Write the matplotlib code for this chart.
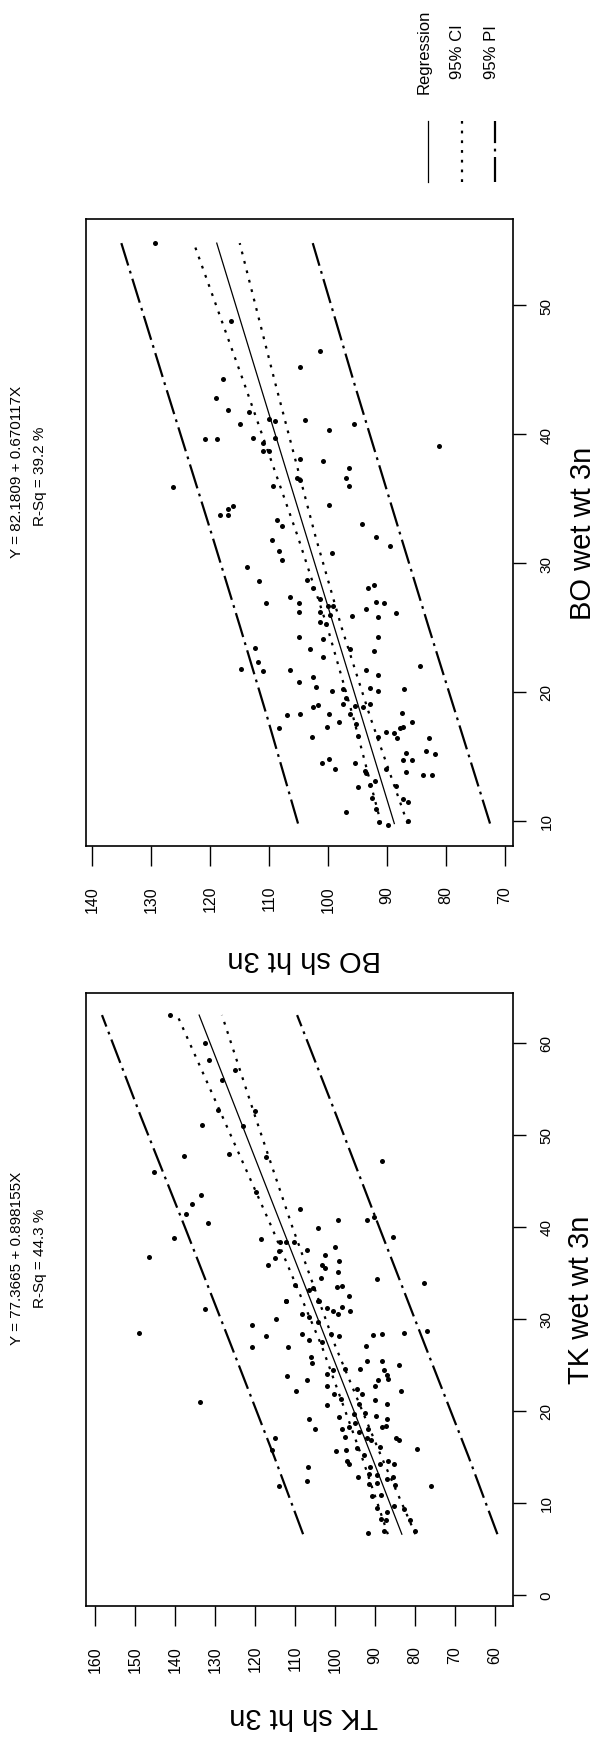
import matplotlib
matplotlib.use("Agg")
import matplotlib.pyplot as plt
from matplotlib.lines import Line2D

plt.rcParams['font.family'] = ['Liberation Sans', 'DejaVu Sans']
plt.rcParams['lines.scale_dashes'] = False

# ---------------- data: TK panel (x = wet wt, y = sh ht) ----------------
tk_wet = [63.0, 60.0, 58.1, 57.0, 55.9, 52.7, 52.6, 51.1, 51.0, 47.7, 47.9, 47.6, 47.1, 45.9,
          43.5, 42.5, 43.8, 41.9, 41.4, 40.4, 40.7, 40.7, 41.1, 39.9, 38.8, 38.7, 38.4, 38.4,
          38.9, 36.7, 38.3, 37.5, 37.8, 37.4, 36.6, 35.9, 36.9, 35.8, 35.5, 36.3, 35.1, 34.4,
          34.3, 33.9, 33.3, 33.1, 33.5, 33.6, 32.5, 31.9, 31.9, 33.7,
          28.5, 31.1, 21.0, 29.3, 28.1, 26.9, 30.0, 31.9, 30.5, 30.2, 31.9, 31.2, 30.8, 30.5,
          31.3, 30.8, 29.7, 28.4, 27.7, 26.9, 23.8, 23.4, 22.2, 25.8, 25.2, 28.3, 28.1, 27.5,
          27.1, 28.2, 28.4, 28.5, 28.7, 25.4, 25.4, 24.6, 24.4, 24.0, 24.5, 24.4, 23.9, 25.0,
          23.5, 23.4, 22.7, 22.2, 22.7, 21.8, 22.4, 21.8, 21.2, 20.8, 20.6, 21.3, 20.7, 19.1,
          18.0, 19.3, 19.7, 19.8, 19.4, 19.1, 18.0, 18.3, 18.7, 18.0, 18.2, 18.4, 17.2, 17.7,
          17.0, 16.8, 17.0, 16.8, 15.9, 17.1, 15.7, 11.8, 15.6, 15.8, 16.0, 16.1, 14.6, 14.2,
          15.2, 13.9, 14.2, 14.6, 14.2, 13.9, 12.4, 12.8, 13.1, 12.1, 13.0, 12.2, 12.6, 12.8,
          11.9, 11.8, 10.8, 10.9, 9.4, 9.0, 9.7, 9.3, 8.2, 8.1, 8.1, 6.7, 7.0, 6.9]
tk_sh = [141.4, 132.5, 131.6, 125.0, 128.3, 129.3, 120.1, 133.3, 123.0, 137.8, 126.5, 117.2, 88.3, 145.4,
         133.6, 135.7, 119.9, 108.9, 137.2, 131.8, 99.3, 91.9, 90.2, 104.3, 140.2, 118.6, 112.4, 110.3,
         85.5, 146.5, 113.9, 107.0, 100.0, 114.1, 115.1, 116.9, 102.6, 103.2, 102.5, 99.0, 99.3, 103.4,
         89.6, 77.7, 105.5, 106.5, 99.4, 98.2, 96.5, 112.4, 104.0, 110.1,
         149.0, 132.5, 133.9, 120.9, 117.4, 120.9, 114.7, 112.4, 108.2, 106.5, 104.2, 102.0, 100.4, 99.3,
         98.2, 96.3, 104.2, 108.2, 106.5, 111.7, 112.0, 106.9, 109.7, 106.1, 105.7, 101.1, 99.0, 103.2,
         92.3, 90.4, 88.2, 82.7, 77.1, 91.9, 88.3, 93.8, 100.4, 102.0, 97.5, 87.7, 86.9, 84.0,
         86.7, 89.2, 90.0, 83.6, 102.0, 100.3, 94.6, 93.3, 90.1, 87.1, 102.1, 98.6, 94.0, 106.5,
         105.0, 99.0, 95.3, 92.5, 89.8, 87.1, 98.2, 96.5, 94.9, 91.7, 88.2, 87.3, 97.5, 94.0,
         91.9, 91.1, 84.8, 84.0, 79.4, 115.1, 115.9, 114.1, 99.7, 97.2, 94.6, 88.7, 96.9, 96.5,
         92.8, 91.3, 88.8, 86.7, 85.2, 106.7, 107.0, 94.2, 91.5, 91.5, 89.4, 89.4, 86.9, 85.6,
         85.0, 75.9, 90.7, 88.6, 89.4, 87.1, 85.2, 82.7, 88.6, 87.3, 81.2, 91.8, 87.7, 80.1]

tk_band_x = [6.6, 15, 27, 40, 52, 63]
tk_fit = [83.3, 90.8, 101.6, 113.3, 124.1, 134.0]
tk_ci_hi = [86.8, 93.3, 103.3, 115.9, 128.2, 139.5]
tk_ci_lo = [79.9, 88.4, 99.9, 110.7, 120.0, 128.3]
tk_pi_hi = [108.0, 115.2, 125.9, 137.6, 148.6, 158.3]
tk_pi_lo = [59.4, 66.6, 77.4, 89.0, 99.6, 109.5]

# ---------------- data: BO panel ----------------
bo_wet = [54.8, 48.8, 46.4, 45.2, 44.3, 42.8, 41.9, 41.7, 40.8, 41.2, 41.0, 41.1, 40.3, 40.8,
          39.6, 39.6, 39.7, 39.7, 39.3, 38.7, 38.7, 39.1, 38.1, 37.9, 37.4, 36.6, 36.0, 35.9,
          36.0, 36.6, 36.4, 34.4, 34.2, 33.7, 33.7, 34.5, 33.3, 32.9, 33.0,
          31.8, 30.9, 30.2, 29.7, 28.6, 30.8, 32.0, 31.3, 28.7, 28.1, 28.1, 28.3, 27.4, 26.9,
          26.2, 26.9, 27.2, 26.2, 26.7, 26.7, 26.0, 25.9, 26.4, 27.0, 26.9, 25.8, 26.1, 25.4,
          25.3, 24.3, 24.1, 24.3, 23.3, 22.7, 23.4, 22.3, 21.8, 21.6, 21.7, 23.3, 23.2, 21.7,
          21.3, 22.0, 21.2, 20.8, 20.4, 20.1, 20.2, 20.3, 20.1, 20.2, 19.5, 19.1, 18.9, 18.8,
          19.1, 18.8, 19.0, 18.2, 18.3, 18.3, 17.7, 18.3, 17.5, 17.3, 18.4, 17.7, 17.2, 16.5,
          16.6, 16.5, 16.9, 16.8, 16.4, 17.2, 17.3, 16.4, 14.5, 14.8, 14.0, 14.5, 13.9, 13.7,
          13.1, 14.0, 15.3, 14.7, 14.7, 13.8, 15.4, 15.2, 13.6, 13.6, 12.6, 12.8, 12.7, 11.7,
          11.5, 11.8, 10.7, 10.9, 9.9, 9.7, 10.0]
bo_sh = [129.3, 116.5, 101.4, 104.8, 117.8, 119.0, 117.0, 113.4, 115.0, 110.0, 109.0, 104.0, 99.8, 95.6,
         120.9, 118.8, 112.8, 109.0, 111.0, 111.1, 110.1, 81.2, 104.8, 100.9, 96.5, 97.0, 96.4, 126.3,
         109.4, 105.2, 104.8, 116.1, 117.0, 118.3, 117.0, 99.8, 108.7, 107.9, 94.3,
         109.5, 108.4, 107.9, 113.7, 111.8, 99.3, 91.9, 89.4, 103.6, 102.5, 93.3, 92.2, 106.5, 104.9,
         104.9, 110.6, 101.4, 101.4, 100.0, 99.1, 99.6, 95.9, 93.5, 91.9, 90.5, 91.5, 88.4, 101.4,
         100.4, 104.9, 100.9, 91.5, 103.0, 100.9, 112.4, 111.9, 114.8, 111.1, 106.5, 96.3, 92.2, 93.6,
         91.5, 84.4, 102.5, 104.9, 102.1, 99.4, 97.4, 92.9, 91.5, 87.1, 96.9, 97.4, 95.4, 94.0,
         92.9, 102.5, 101.7, 106.9, 104.8, 99.8, 98.1, 96.3, 95.3, 100.1, 87.5, 85.7, 108.4, 102.7,
         94.9, 91.5, 90.2, 88.8, 88.3, 87.8, 87.3, 82.9, 101.1, 99.8, 98.8, 95.5, 93.8, 93.6,
         92.1, 90.1, 86.8, 87.3, 85.7, 86.8, 83.4, 81.8, 83.9, 82.3, 94.9, 92.9, 88.5, 87.3,
         86.4, 92.5, 97.0, 91.9, 91.3, 89.8, 86.5]

bo_band_x = [9.8, 18, 25, 32, 44, 54.8]
bo_fit = [88.75, 94.24, 98.93, 103.62, 111.67, 118.90]
bo_ci_hi = [91.0, 95.7, 100.1, 105.1, 114.3, 122.8]
bo_ci_lo = [86.5, 92.8, 97.7, 102.1, 109.0, 115.0]
bo_pi_hi = [105.1, 110.3, 114.9, 119.6, 127.8, 135.1]
bo_pi_lo = [72.5, 78.1, 82.9, 87.6, 95.6, 102.6]

tk_title = ["Y = 77.3665 + 0.898155X", "R-Sq = 44.3 %"]
bo_title = ["Y = 82.1809 + 0.670117X", "R-Sq = 39.2 %"]
legend_labels = ["Regression", "95% CI", "95% PI"]

W, H = 598, 1740
fig = plt.figure(figsize=(W / 100, H / 100), dpi=100)
fig.patch.set_facecolor("white")

def fx(px):
    return px / W

def fy(py):
    return 1 - py / H

CI_DASH = (0, (2.0, 5.0))
PI_DASH = (0, (18.0, 4.0, 2.0, 4.0))

def panel(rect, wet, sh, bx, fit, cilo, cihi, pilo, pihi, xlim, ylim, xticks, yticks):
    ax = fig.add_axes(rect)
    # rotated chart: horizontal axis = sh ht (reversed), vertical axis = wet wt
    ax.scatter(sh, wet, s=13, color="black", linewidths=0, zorder=3)
    ax.plot(fit, bx, color="black", lw=0.9)
    ax.plot(cihi, bx, color="black", lw=1.6, ls=CI_DASH)
    ax.plot(cilo, bx, color="black", lw=1.6, ls=CI_DASH)
    ax.plot(pihi, bx, color="black", lw=1.6, ls=PI_DASH)
    ax.plot(pilo, bx, color="black", lw=1.6, ls=PI_DASH)
    ax.set_xlim(*xlim)
    ax.set_ylim(*ylim)
    ax.set_xticks(xticks)
    ax.set_yticks(yticks)
    ax.yaxis.tick_right()
    ax.tick_params(axis="x", direction="out", length=14.5, width=1.0, pad=13.5,
                   labelsize=11.5, labelrotation=90)
    ax.tick_params(axis="y", direction="out", length=9.5, width=1.0, pad=9.5,
                   labelsize=11, labelrotation=90)
    for lab in ax.get_yticklabels():
        lab.set_va("center")
    for sp in ax.spines.values():
        sp.set_linewidth(1.2)
    return ax

L, R = 86, 513
panel([fx(L), fy(1607), fx(R) - fx(L), fy(994) - fy(1607)],
      tk_wet, tk_sh, tk_band_x, tk_fit, tk_ci_lo, tk_ci_hi, tk_pi_lo, tk_pi_hi,
      (162.3, 55.5), (-1.2, 65.4), list(range(60, 161, 10)), list(range(0, 61, 10)))
panel([fx(L), fy(847), fx(R) - fx(L), fy(220) - fy(847)],
      bo_wet, bo_sh, bo_band_x, bo_fit, bo_ci_lo, bo_ci_hi, bo_pi_lo, bo_pi_hi,
      (141.1, 68.6), (8.06, 56.67), list(range(70, 141, 10)), list(range(10, 51, 10)))

# axis labels
fig.text(fx(304), fy(1716), "TK sh ht 3n", rotation=180, ha="center", va="center", fontsize=21)
fig.text(fx(304), fy(959), "BO sh ht 3n", rotation=180, ha="center", va="center", fontsize=21)
fig.text(fx(581), fy(1300), "TK wet wt 3n", rotation=90, ha="center", va="center", fontsize=21)
fig.text(fx(583), fy(533), "BO wet wt 3n", rotation=90, ha="center", va="center", fontsize=21)

# titles
fig.text(fx(17), fy(1258), tk_title[0], rotation=90, ha="center", va="center", fontsize=11)
fig.text(fx(40), fy(1258), tk_title[1], rotation=90, ha="center", va="center", fontsize=11)
fig.text(fx(17), fy(472), bo_title[0], rotation=90, ha="center", va="center", fontsize=11)
fig.text(fx(40), fy(476), bo_title[1], rotation=90, ha="center", va="center", fontsize=11)

# legend
leg_x = [426, 460, 493]
leg_styles = ["-", CI_DASH, PI_DASH]
leg_lw = [0.9, 1.6, 1.6]
for lx, lab, st, lw in zip(leg_x, legend_labels, leg_styles, leg_lw):
    fig.text(fx(lx - 2), fy(52), lab, rotation=90, ha="center", va="center", fontsize=12)
    fig.add_artist(Line2D([fx(lx + 2), fx(lx + 2)], [fy(183), fy(122)], color="black",
                          lw=lw, ls=st, transform=fig.transFigure))

fig.savefig("out.png", dpi=100, facecolor="white")
